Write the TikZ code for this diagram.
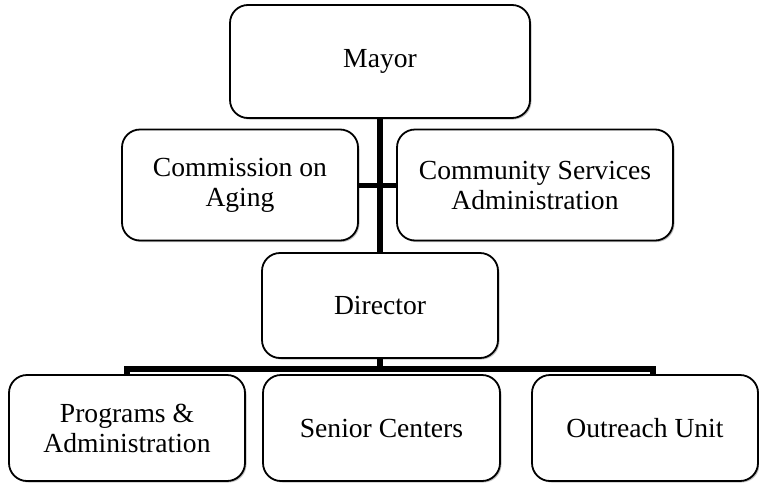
\documentclass[tikz,border=0pt]{standalone}
\usepackage{fontspec}
\setmainfont{Liberation Serif}
\usetikzlibrary{shadows}
\begin{document}
\begin{tikzpicture}[x=1pt,y=-1pt,
  box/.style={draw, line width=1.8pt, rounded corners=18pt, fill=white,
    align=center, font=\fontsize{27.6}{30}\selectfont, inner sep=0pt,
    drop shadow={shadow xshift=1.5pt, shadow yshift=-1.5pt, opacity=0.25, fill=black}},
  conn/.style={line width=6pt},
  hconn/.style={line width=5pt}]
\useasboundingbox (0,0) rectangle (759,482);
\node[box, minimum width=300pt, minimum height=113pt] (mayor) at (380,61.5) {Mayor};
\node[box, minimum width=236pt, minimum height=111pt] (commission) at (240,185) {Commission on\\Aging};
\node[box, minimum width=276pt, minimum height=111pt] (csa) at (535,185) {Community Services\\Administration};
\node[box, minimum width=236pt, minimum height=105pt] (director) at (380,305.5) {Director};
\node[box, minimum width=236pt, minimum height=106pt] (programs) at (127,428) {Programs \&\\Administration};
\node[box, minimum width=237pt, minimum height=106pt] (senior) at (381.5,428) {Senior Centers};
\node[box, minimum width=226pt, minimum height=106pt] (outreach) at (645,428) {Outreach Unit};
\coordinate (barL) at (127,369);
\coordinate (barM) at (380,369);
\coordinate (barR) at (653,369);
\draw[conn] (mayor.south) -- (director.north);
\draw[hconn] (commission.east) -- (csa.west);
\draw[conn] (director.south) -- (barM);
\draw[conn] (programs.north) -- (barL) -- (barR) -- (barR |- outreach.north);
\end{tikzpicture}
\end{document}
